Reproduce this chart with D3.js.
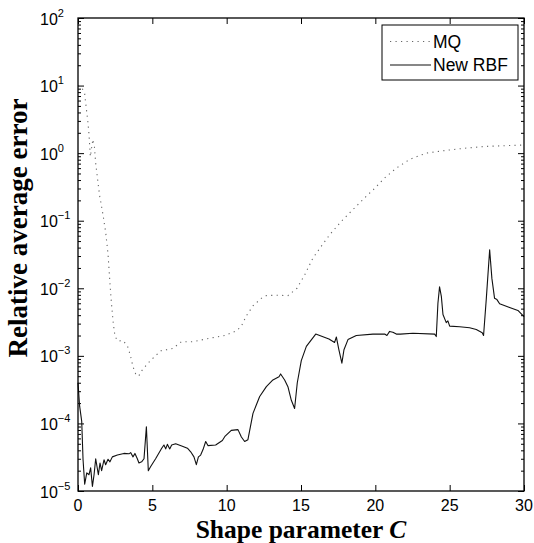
<!DOCTYPE html>
<html>
<head>
<meta charset="utf-8">
<script src="https://cdn.jsdelivr.net/npm/d3@7"></script>
<style>
  body { margin: 0; background: #fff; }
  svg { display: block; }
</style>
</head>
<body>
<svg id="chart" width="534" height="543"></svg>
<script>
// shape parameter C and error for the MQ curve
const mqC = [0, 0.27, 0.45, 0.67, 0.74, 0.83, 1.0, 1.1, 1.19, 1.28, 1.46, 1.55, 1.68, 1.86, 2.02, 2.13,
  2.25, 2.36, 2.49, 2.69, 3.03, 3.32, 3.52, 3.7, 3.88, 4.08, 4.28, 4.71, 5.16, 5.61, 5.94, 6.39, 6.95,
  7.73, 8.4, 9.08, 9.87, 10.3, 10.65, 10.99, 11.32, 11.77, 12.33, 12.67, 13.34, 14.12, 14.73, 15.25,
  15.8, 16.37, 16.93, 17.71, 18.61, 19.39, 19.95, 20.63, 21.41, 22.31, 23.43, 24.77, 26.12, 27.46, 28.81, 30]
const mqErr = [10, 9.2, 7.5, 2.8, 1.9, 0.89, 1.6, 1.3, 0.71, 0.48, 0.23, 0.18, 0.123, 0.068, 0.032, 0.0138,
  0.006, 0.0032, 0.00193, 0.00166, 0.00168, 0.00141, 0.00102, 0.00069, 0.00054, 0.0005, 0.0006, 0.00078,
  0.00098, 0.0012, 0.00123, 0.00129, 0.00162, 0.00162, 0.00174, 0.00186, 0.002, 0.00219, 0.00234, 0.00275,
  0.0039, 0.0055, 0.0071, 0.0078, 0.0079, 0.0078, 0.01, 0.0158, 0.028, 0.042, 0.062, 0.098, 0.155, 0.23,
  0.3, 0.43, 0.6, 0.81, 1.0, 1.1, 1.19, 1.26, 1.29, 1.32]

// new RBF curve
const rbfC = [0, 0.03, 0.11, 0.25, 0.34, 0.45, 0.59, 0.74, 0.85, 0.97, 1.08, 1.19, 1.37, 1.48, 1.59, 1.75,
  1.86, 2.02, 2.15, 2.31, 2.65, 3.09, 3.43, 3.54, 3.7, 3.83, 3.99, 4.1, 4.28, 4.44, 4.6, 4.73, 4.89, 5.22,
  5.63, 5.78, 5.9, 6.01, 6.17, 6.3, 6.57, 7.02, 7.36, 7.58, 7.8, 7.96, 8.1, 8.25, 8.41, 8.59, 8.74, 9.26,
  9.71, 9.9, 10.31, 10.76, 10.99, 11.21, 11.43, 11.77, 12.22, 12.67, 13.11, 13.52, 13.63, 13.9, 14.12,
  14.35, 14.57, 14.75, 15.02, 15.36, 15.99, 16.88, 17.26, 17.38, 17.55, 17.75, 17.89, 18.16, 18.72, 19.84,
  20.63, 20.78, 20.96, 21.18, 21.41, 21.68, 22.53, 23.99, 24.1, 24.21, 24.32, 24.44, 24.55, 24.77, 24.88,
  25.0, 25.67, 26.34, 26.79, 27.19, 27.28, 27.46, 27.69, 27.84, 28.02, 28.18, 28.36, 29.03, 29.59, 30]
const rbfErr = [4.0e-4, 3.2e-4, 1.8e-4, 1.07e-4, 2.9e-5, 1.26e-5, 1.86e-5, 1.74e-5, 2.2e-5, 1.17e-5, 1.74e-5,
  3.0e-5, 1.74e-5, 2.6e-5, 2.0e-5, 2.9e-5, 2.45e-5, 2.95e-5, 2.7e-5, 3.2e-5, 3.4e-5, 3.6e-5, 3.55e-5, 3.7e-5,
  3.2e-5, 3.6e-5, 3.0e-5, 2.6e-5, 2.7e-5, 3.0e-5, 8.9e-5, 2.0e-5, 2.3e-5, 3.0e-5, 4.3e-5, 4.8e-5, 4.2e-5,
  4.9e-5, 4.2e-5, 4.8e-5, 5.0e-5, 4.6e-5, 4.3e-5, 3.8e-5, 3.2e-5, 2.45e-5, 3.2e-5, 3.4e-5, 4.1e-5, 5.4e-5,
  4.7e-5, 4.8e-5, 5.6e-5, 6.5e-5, 7.9e-5, 8.1e-5, 6.3e-5, 5.4e-5, 5.75e-5, 1.41e-4, 2.5e-4, 3.5e-4, 4.4e-4,
  4.9e-4, 5.4e-4, 4.4e-4, 3.5e-4, 2.2e-4, 1.66e-4, 4.0e-4, 8.5e-4, 1.38e-3, 2.1e-3, 1.78e-3, 1.58e-3, 1.9e-3,
  1.23e-3, 7.8e-4, 1.23e-3, 1.74e-3, 2.0e-3, 2.1e-3, 2.1e-3, 2.0e-3, 2.3e-3, 2.24e-3, 2.1e-3, 2.1e-3, 2.16e-3,
  2.1e-3, 1.93e-3, 6.0e-3, 1.05e-2, 7.6e-3, 4.1e-3, 3.1e-3, 3.3e-3, 2.75e-3, 2.7e-3, 2.6e-3, 2.45e-3, 2.2e-3,
  2.0e-3, 6.8e-3, 3.7e-2, 1.4e-2, 7.1e-3, 6.8e-3, 5.9e-3, 5.2e-3, 4.7e-3, 3.8e-3]

const xTicks = [0, 5, 10, 15, 20, 25, 30]
const yExps = [-5, -4, -3, -2, -1, 0, 1, 2]
const seriesNames = ['MQ', 'New RBF']

const svg = d3.select('#chart')
const plotL = 78, plotR = 524, plotT = 18, plotB = 491

const x = d3.scaleLinear().domain([0, 30]).range([plotL, plotR])
const y = d3.scaleLog().domain([1e-5, 1e2]).range([plotB, plotT])

const majorY = yExps.map(e => Math.pow(10, e))
const minorY = []
yExps.slice(0, -1).forEach(e => {
    for (let k = 2; k <= 9; k++) minorY.push(k * Math.pow(10, e))
})

const tickFont = '"Liberation Sans", Arial, sans-serif'

// inward ticks on all four sides
function ticks(axis, tr, vals, size) {
    const g = svg.append('g')
        .attr('transform', tr)
        .call(axis.tickValues(vals).tickSize(size).tickFormat(''))
    g.select('.domain').remove()
    g.selectAll('line').attr('stroke', '#000').attr('stroke-width', 1)
    return g
}
ticks(d3.axisBottom(x), `translate(0,${plotB})`, xTicks, -6)
ticks(d3.axisTop(x), `translate(0,${plotT})`, xTicks, -6)
ticks(d3.axisLeft(y), `translate(${plotL},0)`, majorY, -6)
ticks(d3.axisRight(y), `translate(${plotR},0)`, majorY, -6)
ticks(d3.axisLeft(y), `translate(${plotL},0)`, minorY, -3)
ticks(d3.axisRight(y), `translate(${plotR},0)`, minorY, -3)

// x labels
svg.append('g').selectAll('text')
    .data(xTicks)
    .join('text')
    .attr('x', d => x(d))
    .attr('y', plotB + 20)
    .attr('text-anchor', 'middle')
    .attr('font-family', tickFont)
    .attr('font-size', 16)
    .text(d => d)

// y labels 10^n
const yl = svg.append('g').selectAll('text')
    .data(yExps)
    .join('text')
    .attr('x', 40)
    .attr('y', d => y(Math.pow(10, d)) + 6.5)
    .attr('font-family', tickFont)
    .attr('font-size', 16)
yl.append('tspan').text('10')
yl.append('tspan')
    .attr('dy', -8)
    .attr('font-size', 11)
    .text(d => d < 0 ? '\u2212' + (-d) : d)

// curves
const line = d3.line().x(d => x(d[0])).y(d => y(d[1]))

svg.append('path')
    .datum(mqC.map((c, i) => [c, mqErr[i]]))
    .attr('d', line)
    .attr('fill', 'none')
    .attr('stroke', '#666')
    .attr('stroke-width', 1.1)
    .attr('stroke-dasharray', '1.2,4.3')

svg.append('path')
    .datum(rbfC.map((c, i) => [c, rbfErr[i]]))
    .attr('d', line)
    .attr('fill', 'none')
    .attr('stroke', '#111')
    .attr('stroke-width', 1.1)
    .attr('stroke-linejoin', 'round')

// frame
svg.append('rect')
    .attr('x', plotL).attr('y', plotT)
    .attr('width', plotR - plotL).attr('height', plotB - plotT)
    .attr('fill', 'none')
    .attr('stroke', '#000')
    .attr('stroke-width', 1.3)

// legend
const leg = svg.append('g')
leg.append('rect')
    .attr('x', 382).attr('y', 25).attr('width', 136).attr('height', 55)
    .attr('fill', '#fff').attr('stroke', '#000').attr('stroke-width', 1)
seriesNames.forEach((name, i) => {
    const ly = 41.5 + i * 23.5
    leg.append('line')
        .attr('x1', 390).attr('x2', 431).attr('y1', ly).attr('y2', ly)
        .attr('stroke', i === 0 ? '#666' : '#111')
        .attr('stroke-width', 1.1)
        .attr('stroke-dasharray', i === 0 ? '1.2,4.3' : null)
    leg.append('text')
        .attr('x', 433).attr('y', ly + 6)
        .attr('font-family', tickFont)
        .attr('font-size', 17.5)
        .text(name)
})

// axis titles
const titleFont = '"Liberation Serif", "Times New Roman", serif'
const xt = svg.append('text')
    .attr('x', (plotL + plotR) / 2).attr('y', 538)
    .attr('text-anchor', 'middle')
    .attr('font-family', titleFont)
    .attr('font-weight', 'bold')
    .attr('font-size', 25.5)
xt.append('tspan').text('Shape parameter ')
xt.append('tspan').attr('font-style', 'italic').text('C')

svg.append('text')
    .attr('transform', 'translate(27,228) rotate(-90)')
    .attr('text-anchor', 'middle')
    .attr('font-family', titleFont)
    .attr('font-weight', 'bold')
    .attr('font-size', 27)
    .text('Relative average error')
</script>
</body>
</html>
